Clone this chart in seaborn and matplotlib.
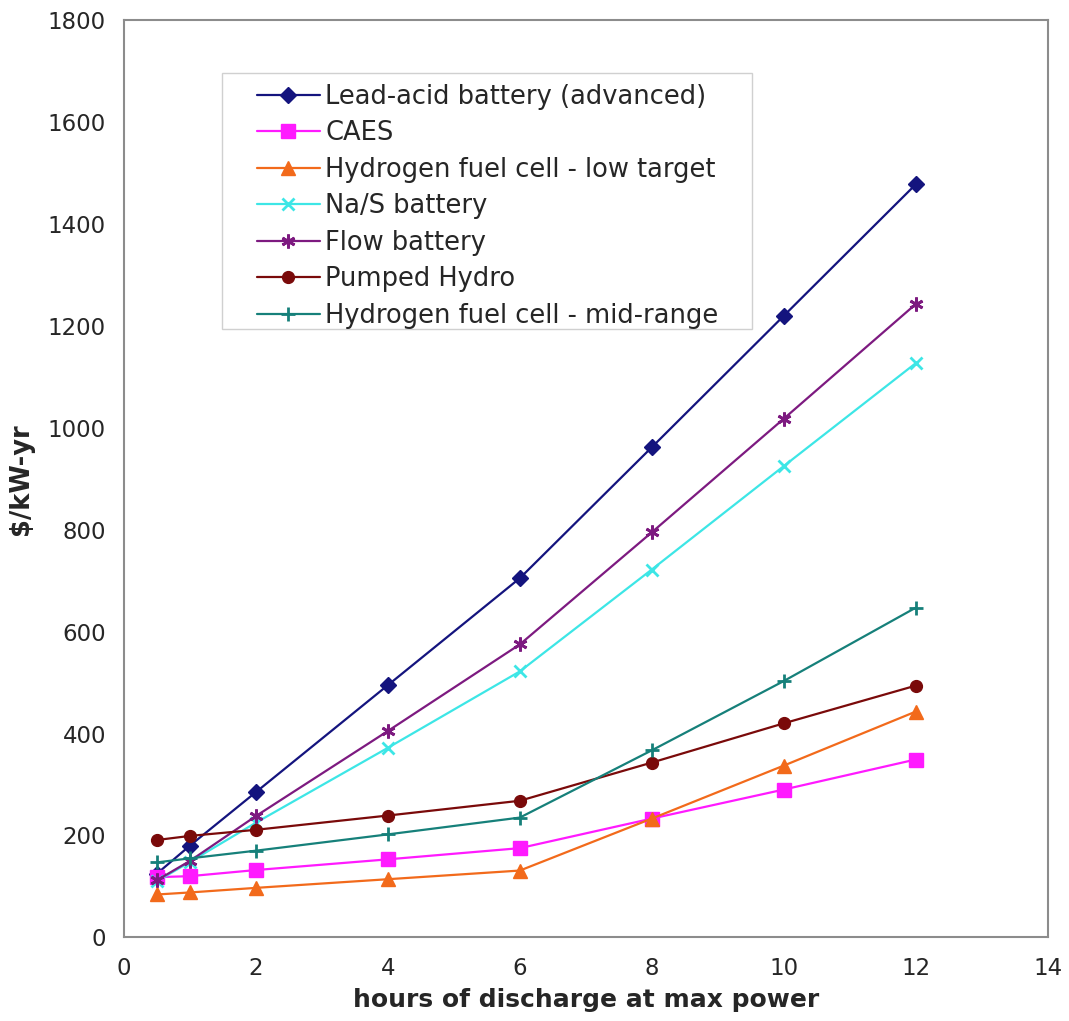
import matplotlib
matplotlib.use("Agg")
import matplotlib.pyplot as plt
from matplotlib.patches import Rectangle
import seaborn as sns
import pandas as pd

hours = [0.5, 1, 2, 4, 6, 8, 10, 12]

lead_acid = [125, 180, 285, 495, 705, 962, 1220, 1478]
caes = [118, 120, 132, 153, 175, 233, 290, 349]
h2_low = [84, 88, 97, 114, 131, 233, 337, 443]
nas = [110, 148, 225, 372, 522, 722, 925, 1127]
flow = [112, 150, 238, 405, 575, 795, 1018, 1243]
pumped = [191, 199, 211, 239, 268, 343, 420, 494]
h2_mid = [147, 155, 170, 202, 235, 367, 503, 647]

series_names = [
    "Lead-acid battery (advanced)",
    "CAES",
    "Hydrogen fuel cell - low target",
    "Na/S battery",
    "Flow battery",
    "Pumped Hydro",
    "Hydrogen fuel cell - mid-range",
]
series_values = [lead_acid, caes, h2_low, nas, flow, pumped, h2_mid]

colors = ["#14147e", "#ff1aff", "#f26a1b", "#3de6e6", "#7d1a80", "#7a0a0a", "#16807a"]
markers = ["D", "s", "^", "x", (6, 2, 0), "o", "+"]
marker_sizes = [8, 9.5, 9.5, 9, 10, 8.5, 10]

rows = []
for name, vals in zip(series_names, series_values):
    for h, v in zip(hours, vals):
        rows.append({"hours": h, "cost": v, "tech": name})
df = pd.DataFrame(rows)

sns.set_theme(style="white")
plt.rcParams["font.family"] = ["DejaVu Sans"]

fig = plt.figure(figsize=(10.69, 10.21), dpi=100)
ax = fig.add_axes([0.116, 0.082, 0.864, 0.898])

for name, col, mk, ms in zip(series_names, colors, markers, marker_sizes):
    sub = df[df["tech"] == name]
    thin = mk in ("x", "+", (6, 2, 0))
    sns.lineplot(
        data=sub, x="hours", y="cost", ax=ax, color=col, marker=mk,
        markersize=ms, markeredgecolor=col, markeredgewidth=2 if thin else 1,
        linewidth=1.6, label=name, sort=False,
    )

ax.set_xlim(0, 14)
ax.set_ylim(0, 1800)
ax.set_xticks(range(0, 15, 2))
ax.set_yticks(range(0, 1801, 200))
ax.tick_params(axis="y", labelsize=16.5, length=0, pad=13)
ax.tick_params(axis="x", labelsize=16.5, length=0, pad=14)
for s in ax.spines.values():
    s.set_color("#8c8c8c")
    s.set_linewidth(1.5)

ax.set_xlabel("hours of discharge at max power", fontsize=18, fontweight="bold", labelpad=6)
ax.set_ylabel("$/kW-yr", fontsize=18.5, fontweight="bold", labelpad=10)

# legend box outline drawn separately so the inner padding can be uneven
ax.add_patch(Rectangle((0.106, 0.663), 0.574, 0.280, transform=ax.transAxes,
                       facecolor="white", edgecolor="#d0d0d0", linewidth=1, zorder=4))
leg = ax.legend(
    loc="upper left", bbox_to_anchor=(0.144, 0.931), fontsize=18.5,
    frameon=False, handlelength=2.45, handletextpad=0.2, labelspacing=0.41,
    borderpad=0, borderaxespad=0,
)
leg.set_zorder(5)

fig.savefig("out.png", dpi=100)
